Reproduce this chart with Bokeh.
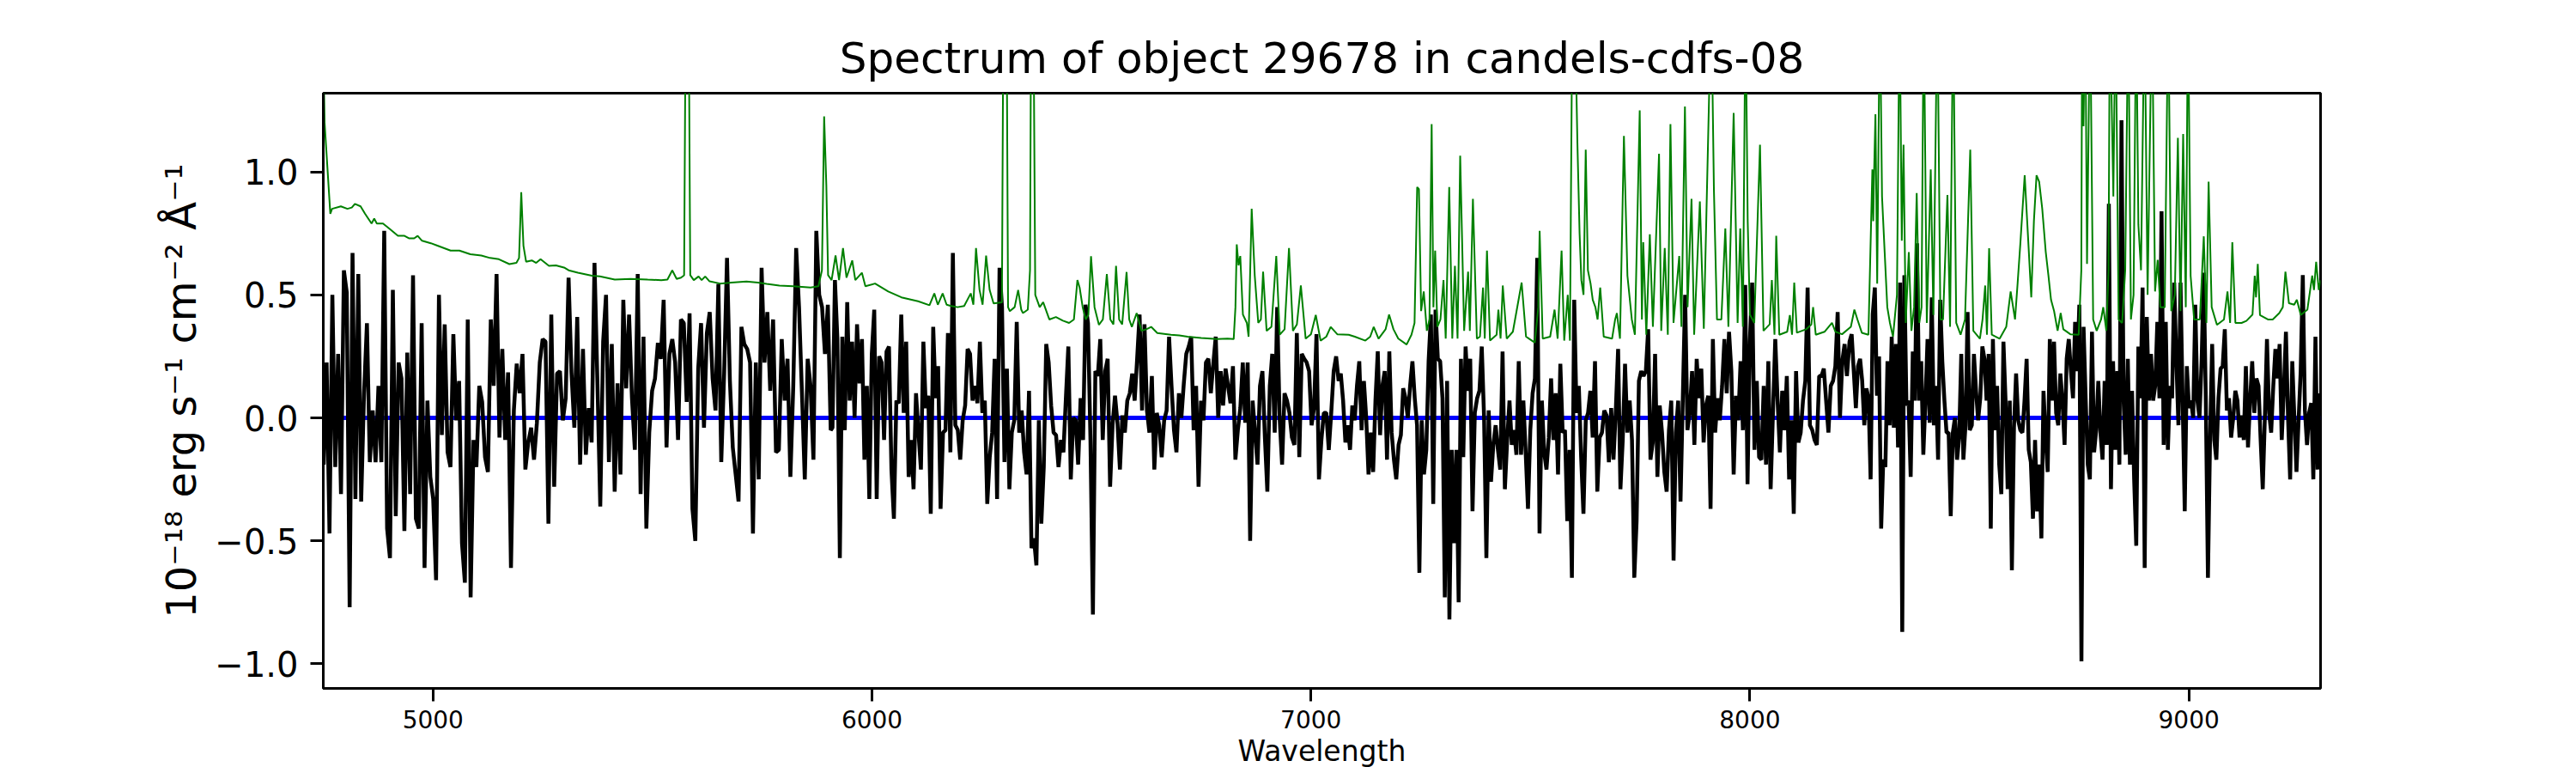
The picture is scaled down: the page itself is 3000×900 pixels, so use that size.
import numpy as np
from bokeh.plotting import figure
from bokeh.models import Range1d, FixedTicker
from bokeh.embed import file_html
from bokeh.resources import INLINE

# ---------------- data ----------------
title_text = "Spectrum of object 29678 in candels-cdfs-08"
x_label = "Wavelength"
y_label = "10\u207b\u00b9\u2078 erg s\u207b\u00b9 cm\u207b\u00b2 \u00c5\u207b\u00b9"

x_ticks = [5000, 6000, 7000, 8000, 9000]
y_ticks = [-1.0, -0.5, 0.0, 0.5, 1.0]
y_tick_labels = ["\u22121.0", "\u22120.5", "0.0", "0.5", "1.0"]

# wavelength spans (Angstrom) of the four stretches of the observed spectrum
seg_edges = [(4751, 5906), (5910, 7063), (7068, 8221), (8227, 9298)]

flux_seg1 = [
    -0.19, 0.225, -0.47, 0.5, -0.2, 0.26, -0.31, 0.6, 0.51, -0.77, 0.67, -0.33, 0.585, -0.34, 0.1, 0.385,
    -0.18, 0.03, -0.18, 0.13, -0.18, 0.76, -0.45, -0.57, 0.52, -0.4, 0.225, 0.16, -0.46, 0.265, -0.31, 0.58,
    -0.41, -0.45, 0.385, -0.61, 0.07, -0.24, -0.33, -0.66, 0.5, -0.07, 0.38, -0.14, -0.2, 0.34, -0.01, 0.15,
    -0.51, -0.67, 0.4, -0.73, -0.09, -0.2, 0.13, 0.065, -0.16, -0.22, 0.4, 0.13, 0.585, -0.08, 0.28, -0.09,
    0.185, -0.61, 0.03, 0.22, 0.1, 0.26, -0.21, -0.1, -0.04, -0.17, -0.02, 0.225, 0.32, 0.31, -0.43, 0.42,
    -0.28, 0.18, 0.19, -0.01, 0.08, 0.57, 0.185, -0.04, 0.41, -0.19, 0.28, -0.15, 0.04, -0.1, 0.63, 0.15,
    -0.36, 0.31, 0.5, -0.18, 0.3, -0.3, 0.14, -0.23, 0.48, 0.12, 0.42, 0.08, -0.13, 0.585, -0.31, 0.33,
    -0.45, -0.06, 0.11, 0.16, 0.305, 0.24, 0.48, -0.12, 0.26, 0.32, 0.225, -0.09, 0.4, 0.385, 0.065, 0.425,
    -0.37, -0.5, 0.2, 0.385, -0.04, 0.345, 0.43, 0.16, 0.03, 0.545, -0.18, 0.18, 0.65, 0.15, -0.12, -0.23,
    -0.34, 0.37, 0.3, 0.28, 0.225, -0.47, 0.225, -0.25, 0.61, 0.225, 0.43, 0.11, 0.4, -0.14, -0.13, 0.32,
    0.07, 0.24, -0.24, 0.13, 0.69, 0.45, 0.105, -0.25, 0.24, 0.13, -0.17, 0.76, 0.5, 0.45, 0.26, 0.46,
    -0.05,
]

flux_seg2 = [
    -0.04, 0.56, 0.32, -0.57, 0.33, -0.05, 0.47, 0.07, 0.31, 0.0, 0.38, 0.14, 0.32, -0.17, 0.13, -0.33,
    0.26, 0.44, -0.33, 0.25, 0.225, -0.09, 0.27, 0.29, -0.21, -0.41, 0.07, 0.06, 0.42, 0.02, 0.31, -0.24,
    -0.09, -0.29, 0.1, -0.06, -0.21, 0.31, 0.04, 0.09, -0.39, 0.37, 0.08, 0.21, -0.37, -0.06, -0.05, 0.345,
    -0.14, 0.67, -0.03, -0.05, -0.17, -0.01, 0.05, 0.28, 0.26, 0.07, 0.13, 0.06, 0.31, 0.02, 0.07, -0.35,
    -0.16, -0.06, 0.24, -0.33, 0.61, 0.45, -0.18, 0.2, -0.29, -0.06, -0.01, 0.39, -0.06, 0.03, -0.14, -0.23,
    0.11, -0.53, -0.49, -0.6, -0.01, -0.43, -0.2, 0.3, 0.225, 0.05, -0.06, -0.07, -0.2, -0.09, -0.14, 0.08,
    0.29, -0.25, 0.0, -0.01, -0.19, 0.08, -0.09, 0.46, 0.385, -0.09, -0.8, 0.19, 0.17, 0.32, -0.09, 0.19,
    0.24, -0.28, -0.03, 0.09, -0.02, -0.21, 0.01, -0.06, 0.07, 0.1, 0.18, 0.07, 0.24, 0.42, 0.03, 0.38,
    0.03, -0.06, 0.17, -0.21, 0.02, -0.03, -0.16, -0.01, 0.03, 0.33, 0.13, -0.05, -0.14, 0.1, 0.0, 0.14,
    0.26, 0.29, 0.33, -0.05, 0.13, -0.28, 0.07, -0.01, 0.225, 0.24, 0.1, 0.22, 0.33, 0.0, 0.19, 0.05,
    0.2, 0.13, 0.06, 0.21, -0.17, -0.05, 0.04, 0.225, -0.02, 0.225, -0.5, 0.07, -0.06, -0.19, 0.13, 0.19,
    -0.08, -0.3, 0.13, 0.26, -0.06, 0.45, 0.0, -0.19, 0.1, 0.07, 0.02, -0.08, -0.11, 0.345, -0.16, 0.26,
    0.24, 0.225, 0.19, -0.03, 0.04, 0.34, -0.25, -0.09, 0.02, 0.02, -0.13, 0.02, 0.19, 0.25, 0.15,
]

flux_seg3 = [
    0.18, 0.07, -0.10, -0.03, -0.13, 0.05, -0.01, 0.13, 0.23, -0.05, 0.15, 0.0, -0.23, -0.06, -0.22, 0.07,
    0.27, -0.07, 0.13, 0.19, -0.17, 0.27, -0.06, -0.17, -0.25, -0.11, -0.07, 0.12, 0.08, 0.0, 0.13, 0.23,
    0.08, -0.03, -0.63, -0.01, -0.23, -0.13, 0.23, 0.42, -0.35, 0.44, 0.24, 0.23, 0.08, -0.73, 0.15, -0.82,
    -0.13, -0.51, -0.13, -0.75, 0.24, -0.16, 0.29, 0.11, 0.24, -0.38, 0.02, 0.08, 0.11, 0.29, 0.0, -0.57,
    0.03, -0.26, -0.11, -0.03, -0.13, -0.21, 0.27, -0.29, -0.09, 0.07, -0.11, -0.05, -0.15, 0.23, -0.15, 0.07,
    -0.14, -0.37, -0.05, 0.10, 0.16, 0.65, -0.47, 0.07, -0.14, -0.21, -0.08, 0.16, -0.09, 0.10, -0.23, 0.22,
    -0.06, -0.05, -0.42, -0.13, -0.65, 0.48, 0.02, 0.13, -0.16, -0.39, -0.01, 0.02, 0.11, -0.08, 0.23, -0.30,
    -0.08, -0.06, 0.03, 0.01, -0.18, 0.04, -0.17, 0.03, 0.28, -0.29, -0.09, 0.22, -0.06, 0.07, -0.09, -0.65,
    -0.42, 0.15, 0.19, 0.17, 0.19, 0.36, -0.17, -0.10, 0.26, -0.24, 0.05, -0.06, -0.22, -0.30, -0.05, 0.07,
    -0.58, -0.06, 0.07, -0.34, 0.08, 0.50, -0.05, 0.02, 0.19, -0.11, 0.24, 0.08, 0.20, -0.10, 0.05, 0.09,
    -0.37, 0.32, -0.06, 0.08, -0.01, 0.13, 0.32, 0.10, 0.35, 0.19, -0.23, 0.09, -0.01, 0.23, -0.05, 0.54,
    -0.27, 0.31, 0.55, -0.13, 0.15, -0.16, -0.17, 0.13, -0.19, 0.23, -0.29, 0.02, 0.32, 0.07, -0.14, 0.11,
    -0.05, 0.17, -0.25, -0.01, -0.39, 0.19, -0.10, -0.06, 0.07, 0.15, 0.53, -0.03, -0.05, -0.09, -0.11, 0.17,
    0.17, 0.20, 0.07, -0.06, 0.13, 0.15, 0.21, 0.43, 0.0, 0.23, 0.30, 0.17,
]

flux_seg4 = [
    0.31, 0.34, 0.19, 0.04, 0.21, 0.24, 0.15, -0.03, 0.12, 0.08, -0.25, 0.42, 0.53, 0.09, 0.25, -0.45,
    -0.17, -0.20, 0.23, -0.03, 0.33, -0.04, 0.30, -0.12, 0.55, -0.87, 0.58, 0.05, 0.07, -0.24, 0.27, 0.07,
    0.71, 0.07, 0.23, -0.15, 0.07, 0.32, -0.02, 0.49, -0.03, 0.13, -0.17, 0.48, 0.23, 0.07, -0.06, -0.06,
    -0.40, -0.06, 0.0, -0.17, -0.08, 0.26, -0.17, -0.03, 0.43, -0.05, -0.03, 0.26, 0.11, -0.01, 0.08, 0.29,
    0.24, 0.07, 0.26, -0.45, 0.32, -0.05, 0.13, -0.19, -0.31, 0.31, 0.07, -0.29, 0.07, -0.62, -0.04, 0.18,
    -0.01, -0.05, -0.06, 0.07, 0.24, -0.13, -0.18, -0.41, -0.09, -0.38, -0.19, -0.49, 0.11, -0.08, -0.22, 0.32,
    0.07, 0.31, 0.02, -0.03, 0.18, 0.07, -0.11, 0.24, 0.32, 0.19, 0.08, 0.39, 0.19, 0.46, -0.99, 0.37,
    0.08, -0.19, -0.25, 0.35, -0.14, -0.05, 0.15, -0.06, -0.17, 0.15, -0.11, 0.87, -0.29, 0.23, -0.13, 0.19,
    -0.19, 1.21, 0.07, -0.15, 0.24, -0.19, 0.11, -0.25, -0.52, 0.29, 0.08, 0.53, -0.61, 0.41, 0.07, 0.26,
    0.07, 0.13, 0.39, 0.08, 0.84, -0.11, 0.39, -0.13, 0.13, 0.08, 0.55, 0.24, -0.03, 0.55, 0.07, -0.38,
    0.21, 0.04, 0.07, 0.0, 0.46, 0.07, 0.0, 0.23, 0.59, 0.07, -0.65, -0.09, 0.30, -0.09, -0.17, 0.08,
    0.20, 0.21, 0.36, 0.03, 0.08, -0.08, 0.0, 0.11, 0.07, -0.08, 0.01, -0.09, 0.21, -0.12, 0.07, 0.23,
    0.02, 0.16, 0.13, -0.09, -0.29, 0.0, 0.32, 0.02, -0.06, 0.13, 0.28, 0.16, 0.30, -0.09, 0.11, 0.35,
    0.0, -0.25, 0.23, 0.0, -0.22, -0.01, 0.19, 0.58, 0.03, -0.11, 0.02, 0.06, -0.25, 0.33, -0.21, 0.10,
]

flux_segments = [flux_seg1, flux_seg2, flux_seg3, flux_seg4]

# noise (error) spectrum, green
noise_wave = [
    4750, 4753, 4766, 4770, 4790, 4805, 4815, 4822, 4835, 4845, 4860, 4866, 4872, 4886, 4900, 4920,
    4935, 4945, 4957, 4965, 4975, 4995, 5010, 5040, 5060, 5085, 5110, 5130, 5150, 5174, 5190, 5196,
    5201, 5206, 5212, 5225, 5235, 5245, 5264, 5280, 5300, 5309, 5330, 5362, 5380, 5414, 5450, 5489,
    5520, 5534, 5545, 5555, 5565, 5572, 5576, 5582, 5586, 5594, 5605, 5612, 5620, 5630, 5654, 5680,
    5714, 5740, 5760, 5789, 5820, 5860, 5878, 5886, 5891, 5896, 5900, 5908,
    5917, 5925, 5934, 5942, 5955, 5962, 5977, 5985, 6007, 6037, 6067, 6105, 6131, 6142, 6150, 6161,
    6170, 6180, 6195, 6210, 6225, 6231, 6237, 6245, 6252, 6260, 6268, 6277, 6296, 6300, 6306, 6310,
    6314, 6325, 6333, 6340, 6344, 6355, 6360, 6363, 6367, 6372, 6382, 6390, 6404, 6419, 6435, 6449,
    6460, 6465, 6468, 6473, 6480, 6487, 6493, 6499, 6507, 6517, 6526, 6535, 6543, 6550, 6556, 6563,
    6570, 6580, 6586, 6592, 6603, 6614, 6625, 6636, 6650, 6681, 6700, 6719, 6750, 6786, 6810, 6824,
    6828, 6831, 6835, 6839, 6845, 6854, 6858, 6865, 6872, 6880, 6886, 6891, 6899, 6910, 6921, 6929,
    6940, 6950, 6959, 6968, 6977, 6988, 7000, 7011, 7022, 7035, 7045, 7060,
    7086, 7100, 7124, 7135, 7143, 7154, 7170, 7178, 7188, 7199, 7218, 7229, 7236, 7242, 7246, 7251,
    7257, 7264, 7270, 7275, 7279, 7283, 7288, 7295, 7302, 7307, 7315, 7322, 7328, 7334, 7340, 7349,
    7358, 7362, 7369, 7378, 7385, 7392, 7396, 7401, 7408, 7423, 7427, 7432, 7437, 7446, 7460, 7465,
    7480, 7490, 7510, 7518, 7521, 7528, 7545, 7555, 7562, 7571, 7577, 7585, 7590, 7596, 7603, 7607,
    7612, 7616, 7621, 7626, 7631, 7637, 7642, 7648, 7653, 7659, 7667, 7686, 7693, 7697, 7704, 7713,
    7721, 7731, 7738, 7749, 7754, 7757, 7764, 7772, 7779, 7793, 7798, 7806, 7813, 7819, 7826, 7839,
    7844, 7852, 7858, 7867, 7873, 7886, 7895, 7912, 7918, 7925, 7935, 7944, 7951, 7963, 7972, 7978,
    7984, 7990, 7995, 8000, 8010, 8023, 8031, 8045, 8050, 8056, 8060, 8067, 8085, 8091, 8096, 8101,
    8107, 8128, 8140, 8144, 8150, 8170, 8187, 8195, 8210, 8230, 8238, 8245, 8255, 8270,
    8279, 8281, 8283, 8286, 8290, 8296, 8301, 8307, 8313, 8319, 8326, 8335, 8341, 8346, 8350, 8355,
    8362, 8368, 8374, 8380, 8386, 8391, 8396, 8403, 8412, 8418, 8427, 8434, 8440, 8450, 8456, 8463,
    8470, 8480, 8490, 8502, 8509, 8524, 8530, 8536, 8540, 8545, 8551, 8569, 8584, 8594, 8604, 8610,
    8616, 8626, 8635, 8641, 8647, 8653, 8659, 8666, 8674, 8680, 8686, 8693, 8701, 8708, 8714, 8719,
    8730, 8749, 8755, 8757, 8760, 8764, 8768, 8775, 8782, 8790, 8800, 8805, 8812, 8817, 8820, 8825,
    8828, 8833, 8840, 8848, 8855, 8862, 8868, 8874, 8880, 8885, 8891, 8899, 8906, 8916, 8923, 8929,
    8935, 8945, 8953, 8960, 8968, 8975, 8981, 8987, 8993, 8998, 9004, 9012, 9025, 9034, 9040, 9045,
    9052, 9064, 9080, 9088, 9094, 9099, 9106, 9120, 9131, 9145, 9150, 9153, 9157, 9162, 9180, 9191,
    9206, 9214, 9220, 9228, 9240, 9246, 9255, 9270, 9281, 9285, 9290, 9296, 9300,
]
noise_flux = [
    1.50, 1.20, 0.83, 0.85, 0.86, 0.85, 0.855, 0.87, 0.86, 0.83, 0.79, 0.81, 0.79, 0.79, 0.77, 0.74,
    0.74, 0.73, 0.73, 0.74, 0.72, 0.71, 0.70, 0.68, 0.68, 0.665, 0.66, 0.65, 0.645, 0.625, 0.63, 0.65,
    0.917, 0.70, 0.635, 0.64, 0.63, 0.645, 0.618, 0.62, 0.61, 0.60, 0.59, 0.578, 0.575, 0.562, 0.565, 0.562,
    0.56, 0.562, 0.60, 0.565, 0.57, 0.58, 1.80, 1.80, 0.58, 0.56, 0.575, 0.56, 0.575, 0.555, 0.546, 0.55,
    0.554, 0.55, 0.545, 0.538, 0.535, 0.53, 0.535, 0.60, 1.226, 0.946, 0.58, 0.56,
    0.66, 0.56, 0.69, 0.57, 0.64, 0.56, 0.59, 0.535, 0.546, 0.514, 0.49, 0.474, 0.458, 0.506, 0.46, 0.506,
    0.46, 0.455, 0.45, 0.455, 0.506, 0.46, 0.69, 0.52, 0.46, 0.66, 0.52, 0.465, 0.47, 1.90, 1.90, 0.45,
    0.434, 0.45, 0.52, 0.44, 0.426, 0.44, 0.60, 1.90, 1.90, 0.50, 0.45, 0.47, 0.40, 0.41, 0.395, 0.386,
    0.40, 0.50, 0.56, 0.53, 0.45, 0.40, 0.42, 0.657, 0.45, 0.378, 0.40, 0.585, 0.40, 0.38, 0.618, 0.40,
    0.38, 0.593, 0.40, 0.37, 0.426, 0.354, 0.36, 0.37, 0.345, 0.338, 0.335, 0.33, 0.325, 0.32, 0.322, 0.32,
    0.45, 0.705, 0.62, 0.658, 0.42, 0.386, 0.33, 0.85, 0.578, 0.386, 0.40, 0.594, 0.354, 0.37, 0.658, 0.338,
    0.36, 0.69, 0.354, 0.38, 0.538, 0.322, 0.34, 0.418, 0.314, 0.33, 0.37, 0.34,
    0.338, 0.33, 0.314, 0.33, 0.37, 0.322, 0.36, 0.42, 0.36, 0.322, 0.298, 0.338, 0.386, 0.938, 0.93, 0.434,
    0.514, 0.354, 0.40, 1.194, 0.45, 0.68, 0.37, 0.40, 0.56, 0.322, 0.938, 0.322, 0.618, 0.322, 1.066, 0.354,
    0.594, 0.354, 0.89, 0.322, 0.33, 0.53, 0.322, 0.68, 0.314, 0.338, 0.44, 0.322, 0.538, 0.322, 0.35, 0.40,
    0.55, 0.33, 0.306, 0.45, 0.76, 0.322, 0.33, 0.44, 0.322, 0.68, 0.314, 0.50, 0.314, 1.80, 1.50, 1.12,
    0.75, 0.56, 0.50, 1.09, 0.60, 0.546, 0.48, 0.45, 0.40, 0.53, 0.33, 0.322, 0.40, 0.426, 0.322, 1.146,
    0.578, 0.40, 0.338, 1.25, 0.40, 0.714, 0.338, 0.746, 0.37, 1.074, 0.354, 0.69, 0.338, 1.194, 0.386, 0.658,
    0.37, 1.266, 0.45, 0.89, 0.338, 0.88, 0.362, 1.70, 0.93, 0.40, 0.40, 0.77, 0.37, 1.24, 0.386, 0.77,
    0.37, 1.70, 0.80, 0.42, 0.386, 1.11, 0.354, 0.38, 0.56, 0.338, 0.74, 0.338, 0.35, 0.418, 0.338, 0.55,
    0.346, 0.36, 0.38, 0.45, 0.338, 0.35, 0.386, 0.35, 0.34, 0.37, 0.44, 0.40, 0.346, 0.338,
    1.01, 0.80, 1.00, 1.234, 0.546, 1.70, 0.90, 0.674, 0.45, 0.386, 0.33, 0.50, 1.70, 0.72, 1.11, 0.386,
    0.674, 0.354, 0.45, 0.914, 0.386, 0.45, 1.70, 0.386, 1.01, 0.418, 1.70, 0.40, 0.40, 0.906, 0.37, 1.70,
    0.386, 0.338, 0.40, 1.09, 0.354, 0.322, 0.40, 0.538, 0.338, 0.69, 0.338, 0.322, 0.37, 0.514, 0.40, 0.55,
    0.706, 0.986, 0.69, 0.49, 0.80, 0.986, 0.96, 0.85, 0.674, 0.58, 0.48, 0.434, 0.354, 0.426, 0.36, 0.354,
    0.34, 0.338, 0.60, 1.70, 1.186, 1.70, 0.626, 1.70, 0.40, 0.354, 0.40, 0.45, 0.354, 0.60, 1.70, 1.20,
    0.90, 1.70, 0.40, 0.386, 0.60, 1.70, 0.40, 0.50, 1.70, 0.786, 0.60, 1.70, 0.50, 1.70, 0.514, 0.642,
    0.45, 0.45, 1.70, 0.434, 0.50, 1.138, 0.434, 1.154, 0.45, 1.70, 0.578, 0.40, 0.40, 0.738, 0.386, 0.96,
    0.45, 0.378, 0.40, 0.514, 0.386, 0.714, 0.386, 0.386, 0.394, 0.42, 0.578, 0.49, 0.626, 0.418, 0.40, 0.40,
    0.426, 0.45, 0.594, 0.466, 0.46, 0.48, 0.418, 0.44, 0.578, 0.52, 0.634, 0.52, 0.56,
]

# model (blue)
model_wave = [4750, 9300]
model_flux = [0.0, 0.0]

x_min, x_max = 4750, 9300
y_min, y_max = -1.10, 1.32

# ---------------- build ----------------
wave = np.concatenate([np.linspace(a, b, len(s)) for (a, b), s in zip(seg_edges, flux_segments)])
flux = np.concatenate([np.asarray(s, dtype=float) for s in flux_segments])

FONT = "DejaVu Sans"
TXT = "black"

p = figure(
    frame_width=2326, frame_height=693,
    x_range=Range1d(x_min, x_max), y_range=Range1d(y_min, y_max),
    output_backend="svg", toolbar_location=None,
    min_border_left=376, min_border_right=298, min_border_top=108, min_border_bottom=99,
    background_fill_color="white", border_fill_color="white",
)

p.title.text = title_text
p.title.text_font = FONT
p.title.text_font_size = "50px"
p.title.text_font_style = "normal"
p.title.text_color = TXT
p.title.align = "center"
p.title.standoff = 24

p.line(model_wave, model_flux, line_color="#0000ff", line_width=5)
p.line(wave, flux, line_color="black", line_width=4.5)
p.line(noise_wave, noise_flux, line_color="#008000", line_width=2)

p.grid.visible = False
p.outline_line_color = "black"
p.outline_line_width = 3
p.outline_line_alpha = 1.0

xa = p.xaxis[0]
xa.ticker = FixedTicker(ticks=x_ticks)
xa.major_label_overrides = {t: str(t) for t in x_ticks}
xa.minor_tick_line_color = None
xa.major_tick_out = 15
xa.major_tick_in = 0
xa.major_tick_line_width = 3
xa.axis_line_width = 3
xa.major_label_text_font = FONT
xa.major_label_text_font_size = "28px"
xa.major_label_text_color = TXT
xa.major_label_standoff = 10
xa.axis_label = x_label
xa.axis_label_text_font = FONT
xa.axis_label_text_font_size = "33px"
xa.axis_label_text_font_style = "normal"
xa.axis_label_text_color = TXT
xa.axis_label_standoff = 4

ya = p.yaxis[0]
ya.ticker = FixedTicker(ticks=y_ticks)
ya.major_label_overrides = {t: l for t, l in zip(y_ticks, y_tick_labels)}
ya.minor_tick_line_color = None
ya.major_tick_out = 15
ya.major_tick_in = 0
ya.major_tick_line_width = 3
ya.axis_line_width = 3
ya.major_label_text_font = FONT
ya.major_label_text_font_size = "40px"
ya.major_label_text_color = TXT
ya.major_label_standoff = 14
ya.axis_label = y_label
ya.axis_label_text_font = FONT
ya.axis_label_text_font_size = "48px"
ya.axis_label_text_font_style = "normal"
ya.axis_label_text_color = TXT
ya.axis_label_standoff = 8

open("out.html", "w").write(file_html(p, INLINE))
